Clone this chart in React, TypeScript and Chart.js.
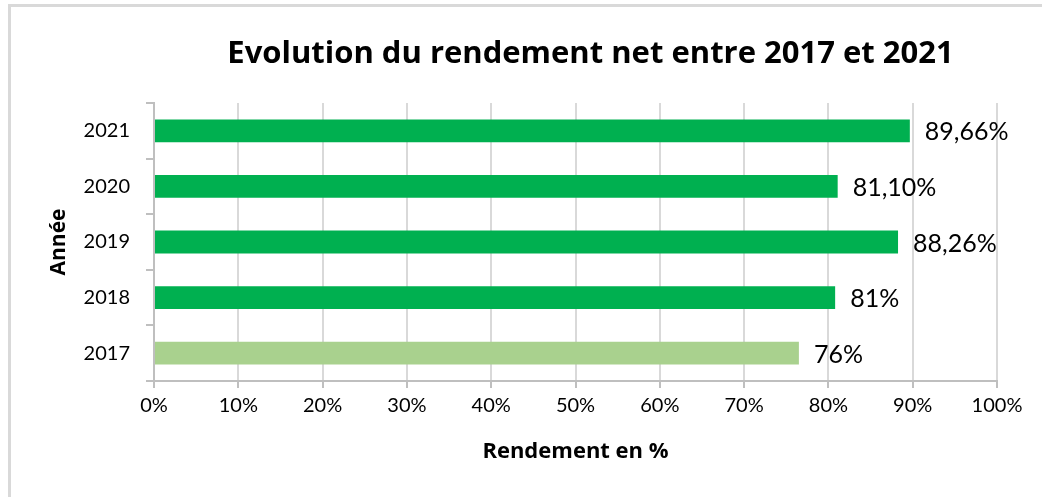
import React, { useEffect, useRef } from "react";
import { Chart, registerables } from "chart.js";

Chart.register(...registerables);

const chartTitle = "Evolution du rendement net entre 2017 et 2021";
const years = ["2021", "2020", "2019", "2018", "2017"];
const rendement = [89.66, 81.1, 88.26, 80.8, 76.5];
const valueLabels = ["89,66%", "81,10%", "88,26%", "81%", "76%"];
const barColors = ["#00B050", "#00B050", "#00B050", "#00B050", "#A9D18E"];
const xAxisTitle = "Rendement en %";
const yAxisTitle = "Année";

const FONT = "Lato, 'Open Sans', sans-serif";
const BOLD_FONT = "'Open Sans', Lato, sans-serif";

export default function App() {
  const ref = useRef<HTMLCanvasElement | null>(null);

  useEffect(() => {
    const canvas = ref.current;
    if (!canvas) return;

    const titlePlugin = {
      id: "customTitle",
      afterDraw(chart: any) {
        const { ctx, chartArea } = chart;
        ctx.save();
        ctx.font = `bold 31px ${BOLD_FONT}`;
        ctx.fillStyle = "#000000";
        ctx.textAlign = "center";
        ctx.textBaseline = "alphabetic";
        ctx.fillText(chartTitle, (chartArea.left + chartArea.right) / 2 + 15, 63);
        ctx.restore();
      },
    };

    const labelPlugin = {
      id: "valueLabels",
      afterDatasetsDraw(chart: any) {
        const { ctx } = chart;
        const meta = chart.getDatasetMeta(0);
        ctx.save();
        ctx.font = `25px ${FONT}`;
        ctx.fillStyle = "#000000";
        ctx.textAlign = "left";
        ctx.textBaseline = "alphabetic";
        meta.data.forEach((bar: any, i: number) => {
          ctx.fillText(valueLabels[i], bar.x + 15, bar.y + 9.5);
        });
        ctx.restore();
      },
    };

    const chart = new Chart(canvas, {
      type: "bar",
      data: {
        labels: years,
        datasets: [
          {
            data: rendement,
            backgroundColor: barColors,
            borderWidth: 0,
            barPercentage: 0.41,
            categoryPercentage: 1,
          },
        ],
      },
      options: {
        indexAxis: "y",
        responsive: false,
        animation: false,
        devicePixelRatio: 1,
        layout: { padding: { top: 103, right: 45, bottom: 0, left: 0 } },
        plugins: {
          legend: { display: false },
          title: { display: false },
          tooltip: { enabled: false },
        },
        scales: {
          x: {
            min: 0,
            max: 100,
            ticks: {
              stepSize: 10,
              callback: (v: any) => `${v}%`,
              color: "#000000",
              font: { family: FONT, size: 20 },
              padding: 6,
              maxRotation: 0,
            },
            grid: {
              color: "#D9D9D9",
              lineWidth: 2,
              tickColor: "#BFBFBF",
              tickLength: 7,
              drawTicks: true,
            },
            border: { color: "#BFBFBF", width: 2 },
            title: {
              display: true,
              text: xAxisTitle,
              color: "#000000",
              font: { family: BOLD_FONT, size: 22, weight: "bold" },
              padding: { top: 0, bottom: 32 },
            },
            afterFit: (s: any) => {
              s.height = 116;
            },
          },
          y: {
            ticks: {
              color: "#000000",
              font: { family: FONT, size: 20 },
              padding: 16,
            },
            grid: {
              offset: true,
              drawOnChartArea: false,
              drawTicks: true,
              tickLength: 8,
              tickColor: "#BFBFBF",
              lineWidth: 2,
            },
            border: { color: "#BFBFBF", width: 2 },
            title: {
              display: true,
              text: yAxisTitle,
              color: "#000000",
              font: { family: BOLD_FONT, size: 21, weight: "bold" },
              padding: { top: 46, bottom: 0 },
            },
            afterFit: (s: any) => {
              s.width = 154;
            },
          },
        },
      },
      plugins: [titlePlugin, labelPlugin],
    });

    return () => chart.destroy();
  }, []);

  return (
    <div style={{ position: "fixed", left: 0, top: 0, width: 1042, height: 497, background: "#FFFFFF" }}>
      <div
        style={{
          position: "absolute",
          left: 8,
          top: 4,
          right: 0,
          bottom: 0,
          borderTop: "3px solid #D9D9D9",
          borderLeft: "3px solid #D9D9D9",
        }}
      />
      <canvas ref={ref} width={1042} height={497} style={{ position: "absolute", left: 0, top: 0 }} />
    </div>
  );
}
